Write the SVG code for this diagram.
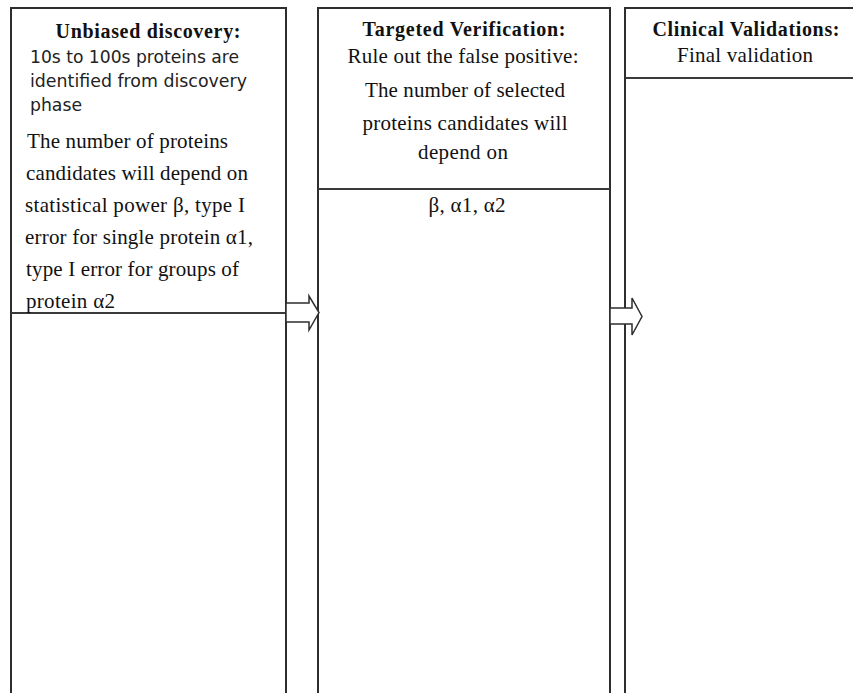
<svg xmlns="http://www.w3.org/2000/svg" width="853" height="693" viewBox="0 0 853 693">
  <style>
    .box { fill: #ffffff; stroke: #2e2e2e; stroke-width: 2; }
    .div { stroke: #3a3a3a; stroke-width: 2; fill: none; }
    .title { font-family: "Liberation Serif", "Times New Roman", serif; font-weight: bold; font-size: 20px; fill: #111; }
    .body { font-family: "Liberation Serif", "Times New Roman", serif; font-size: 21px; fill: #111; }
    .sans { font-family: "DejaVu Sans", "Liberation Sans", sans-serif; font-size: 17px; fill: #222; }
    .arrow { fill: #ffffff; stroke: #2e2e2e; stroke-width: 1.5; stroke-linejoin: miter; }
  </style>

  <rect x="0" y="0" width="853" height="693" fill="#ffffff"/>

  <!-- Stage 1 -->
  <g id="discovery">
    <rect class="box" x="11" y="8" width="275" height="700"/>
    <line class="div" x1="11" y1="313" x2="286" y2="313" stroke-width="2.6"/>
    <text class="title" x="148" y="38" text-anchor="middle" textLength="185" lengthAdjust="spacing">Unbiased discovery:</text>
    <text class="sans" x="30" y="63" textLength="209" lengthAdjust="spacingAndGlyphs">10s to 100s proteins are</text>
    <text class="sans" x="30" y="87" textLength="217" lengthAdjust="spacingAndGlyphs">identified from discovery</text>
    <text class="sans" x="30" y="111" textLength="52" lengthAdjust="spacingAndGlyphs">phase</text>
    <text class="body" x="27" y="148" textLength="201" lengthAdjust="spacing">The number of proteins</text>
    <text class="body" x="26" y="180" textLength="222" lengthAdjust="spacing">candidates will depend on</text>
    <text class="body" x="25" y="212" textLength="220" lengthAdjust="spacing">statistical power β, type I</text>
    <text class="body" x="25" y="244" textLength="228" lengthAdjust="spacing">error for single protein α1,</text>
    <text class="body" x="26" y="276" textLength="213" lengthAdjust="spacing">type I error for groups of</text>
    <text class="body" x="26" y="308" textLength="89" lengthAdjust="spacing">protein α2</text>
  </g>

  <!-- Stage 2 -->
  <g id="verification">
    <rect class="box" x="318" y="8" width="292" height="700"/>
    <line class="div" x1="318" y1="189" x2="610" y2="189"/>
    <text class="title" x="464" y="36" text-anchor="middle" textLength="203" lengthAdjust="spacing">Targeted Verification:</text>
    <text class="body" x="463" y="63" text-anchor="middle" textLength="231" lengthAdjust="spacing">Rule out the false positive:</text>
    <text class="body" x="465" y="97" text-anchor="middle" textLength="200" lengthAdjust="spacing">The number of selected</text>
    <text class="body" x="465" y="130" text-anchor="middle" textLength="205" lengthAdjust="spacing">proteins candidates will</text>
    <text class="body" x="463" y="159" text-anchor="middle" textLength="90" lengthAdjust="spacing">depend on</text>
    <text class="body" x="467" y="212" text-anchor="middle" textLength="77" lengthAdjust="spacing">β, α1, α2</text>
  </g>

  <!-- Stage 3 -->
  <g id="clinical">
    <rect class="box" x="625" y="8" width="260" height="700"/>
    <line class="div" x1="625" y1="78" x2="853" y2="78"/>
    <text class="title" x="746" y="36" text-anchor="middle" textLength="187" lengthAdjust="spacing">Clinical Validations:</text>
    <text class="body" x="745" y="62" text-anchor="middle" textLength="136" lengthAdjust="spacing">Final validation</text>
  </g>

  <!-- Block arrows between stages -->
  <g id="connectors">
    <path class="arrow" d="M286,303 H309 V296 L319,312.5 L309,330 V322 H286 Z"/>
    <path class="arrow" d="M610,308 H632 V298 L642,316.5 L632,335 V324 H610 Z"/>
  </g>
</svg>
